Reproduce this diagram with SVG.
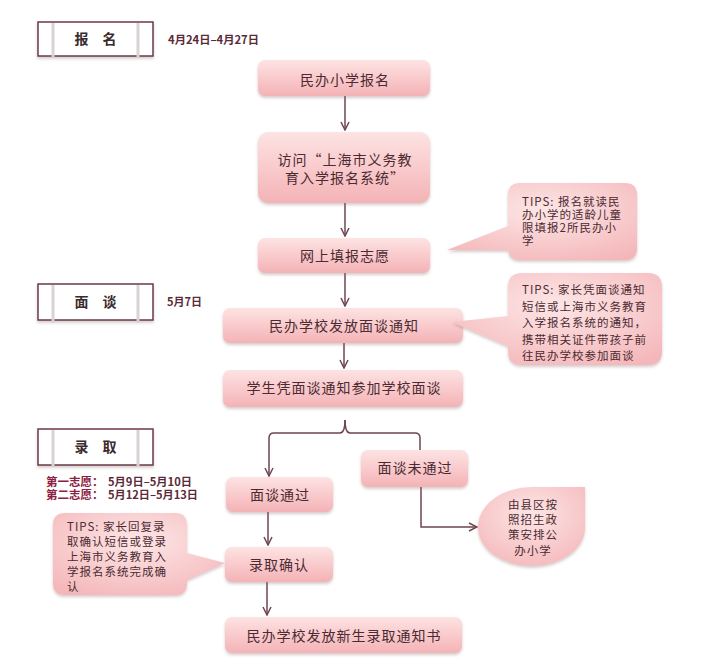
<svg xmlns="http://www.w3.org/2000/svg" width="714" height="671" viewBox="0 0 714 671">
<defs>
  <linearGradient id="pink" x1="0" y1="0" x2="0" y2="1">
    <stop offset="0" stop-color="#fde3e3"/>
    <stop offset="0.55" stop-color="#f9c8ca"/>
    <stop offset="1" stop-color="#f3b3b6"/>
  </linearGradient>
  <radialGradient id="pinkR" cx="0.5" cy="0.35" r="0.75">
    <stop offset="0" stop-color="#fde6e6"/>
    <stop offset="1" stop-color="#f4b6b9"/>
  </radialGradient>
  <filter id="sh" x="-10%" y="-20%" width="120%" height="150%">
    <feDropShadow dx="0" dy="2" stdDeviation="1.6" flood-color="#8a6a6a" flood-opacity="0.35"/>
  </filter>
  <marker id="arr" viewBox="0 0 10 10" refX="9" refY="5" markerWidth="10" markerHeight="10" markerUnits="userSpaceOnUse" orient="auto">
    <path d="M1,1 L9,5 L1,9" fill="none" stroke="#6e4650" stroke-width="1.5"/>
  </marker>
  <style>
    .node { fill: url(#pink); filter: url(#sh); }
    .tip { fill: url(#pinkR); filter: url(#sh); }
    .t { font-family: "Noto Sans CJK SC", "Liberation Serif", serif; font-size: 14px; fill: #4b2a32; text-anchor: middle; letter-spacing: 1px; }
    .s { font-family: "Noto Sans CJK SC", "Liberation Serif", serif; font-size: 11.5px; fill: #4b2a32; letter-spacing: 1px; }
    .hbox { fill: #ffffff; stroke: #6b3a48; stroke-width: 1.5; filter: url(#sh); }
    .hline { stroke: #d9d2d3; stroke-width: 3; }
    .ht { font-family: "Noto Sans CJK SC", "Liberation Serif", serif; font-size: 14px; font-weight: bold; fill: #3a2a2e; text-anchor: middle; }
    .date { font-family: "Noto Sans CJK SC", "Liberation Sans", sans-serif; font-size: 11px; font-weight: bold; fill: #5a2a38; }
    .lab { font-family: "Noto Sans CJK SC", "Liberation Sans", sans-serif; font-size: 11.5px; font-weight: bold; fill: #8b2040; }
    .c { fill: none; stroke: #6e4650; stroke-width: 1.5; }
  </style>
</defs>
<rect width="714" height="671" fill="#ffffff"/>

<g id="header-baoming">
  <rect class="hbox" x="38" y="22" width="115" height="34"/>
  <line class="hline" x1="53" y1="23" x2="53" y2="58"/>
  <line class="hline" x1="138" y1="23" x2="138" y2="58"/>
  <text class="ht" x="95.5" y="44">报　名</text>
  <text class="date" x="168" y="44" textLength="91" lengthAdjust="spacingAndGlyphs">4月24日–4月27日</text>
</g>
<g id="header-miantan">
  <rect class="hbox" x="38" y="284" width="115" height="36"/>
  <line class="hline" x1="53" y1="285" x2="53" y2="323"/>
  <line class="hline" x1="138" y1="285" x2="138" y2="323"/>
  <text class="ht" x="95.5" y="307">面　谈</text>
  <text class="date" x="167" y="306">5月7日</text>
</g>
<g id="header-luqu">
  <rect class="hbox" x="38" y="429" width="115" height="36"/>
  <line class="hline" x1="53" y1="430" x2="53" y2="467"/>
  <line class="hline" x1="138" y1="430" x2="138" y2="467"/>
  <text class="ht" x="95.5" y="452">录　取</text>
  <text class="lab" x="46" y="486">第一志愿：</text>
  <text class="date" x="108" y="486" textLength="84" lengthAdjust="spacingAndGlyphs">5月9日–5月10日</text>
  <text class="lab" x="46" y="499">第二志愿：</text>
  <text class="date" x="108" y="499" textLength="90" lengthAdjust="spacingAndGlyphs">5月12日–5月13日</text>
</g>

<g id="connectors">
  <path class="c" d="M345,96 L345,130" marker-end="url(#arr)"/>
  <path class="c" d="M345,203 L345,236" marker-end="url(#arr)"/>
  <path class="c" d="M345,273 L345,306" marker-end="url(#arr)"/>
  <path class="c" d="M344,343 L344,368" marker-end="url(#arr)"/>
  <path class="c" d="M345,420 Q345,433 340,433 L274,433 Q269,433 269,438 L269,476" marker-end="url(#arr)"/>
  <path class="c" d="M345,420 Q345,433 350,433 L415,433 Q420,433 420,438 L420,450"/>
  <path class="c" d="M421,487 L421,527 L477,527" marker-end="url(#arr)"/>
  <path class="c" d="M268,512 L268,545" marker-end="url(#arr)"/>
  <path class="c" d="M267,582 L267,615" marker-end="url(#arr)"/>
</g>

<g id="n1">
  <rect class="node" x="258" y="60" width="172" height="36" rx="7"/>
  <text class="t" x="345" y="85">民办小学报名</text>
</g>
<g id="n2">
  <rect class="node" x="258" y="132" width="172" height="71" rx="10"/>
  <text class="t" x="345" y="165">访问“上海市义务教</text>
  <text class="t" x="345" y="183">育入学报名系统”</text>
</g>
<g id="n3">
  <rect class="node" x="258" y="238" width="172" height="35" rx="7"/>
  <text class="t" x="345" y="261">网上填报志愿</text>
</g>
<g id="tip1">
  <path class="tip" d="M520,183 L625,183 Q637,183 637,195 L637,248 Q637,260 625,260 L520,260 Q508,260 508,248 L508,250 L447,250 L508,226 L508,195 Q508,183 520,183 Z"/>
  <text class="s" x="522" y="206">TIPS: 报名就读民</text>
  <text class="s" x="522" y="219">办小学的适龄儿童</text>
  <text class="s" x="522" y="232">限填报2所民办小</text>
  <text class="s" x="522" y="245">学</text>
</g>
<g id="n4">
  <rect class="node" x="223" y="308" width="240" height="35" rx="7"/>
  <text class="t" x="344" y="331">民办学校发放面谈通知</text>
</g>
<g id="tip2">
  <path class="tip" d="M522,273 L648,273 Q662,273 662,287 L662,351 Q662,365 648,365 L522,365 Q508,365 508,351 L508,346 L452,322 L508,316 L508,287 Q508,273 522,273 Z"/>
  <text class="s" x="522" y="294">TIPS: 家长凭面谈通知</text>
  <text class="s" x="522" y="311">短信或上海市义务教育</text>
  <text class="s" x="522" y="327">入学报名系统的通知，</text>
  <text class="s" x="522" y="344">携带相关证件带孩子前</text>
  <text class="s" x="522" y="360">往民办学校参加面谈</text>
</g>
<g id="n5">
  <rect class="node" x="223" y="370" width="240" height="37" rx="7"/>
  <text class="t" x="344" y="393">学生凭面谈通知参加学校面谈</text>
</g>
<g id="n6">
  <rect class="node" x="226" y="477" width="107" height="35" rx="7"/>
  <text class="t" x="280" y="500">面谈通过</text>
</g>
<g id="n7">
  <rect class="node" x="361" y="450" width="107" height="37" rx="7"/>
  <text class="t" x="415" y="473">面谈未通过</text>
</g>
<g id="n8">
  <path class="tip" d="M532,487 L585,487 L585,527 A53,39 0 0 1 532,566 A54,39 0 0 1 478,527 A54,40 0 0 1 532,487 Z"/>
  <text class="s" x="533" y="509" text-anchor="middle">由县区按</text>
  <text class="s" x="533" y="524" text-anchor="middle">照招生政</text>
  <text class="s" x="533" y="539" text-anchor="middle">策安排公</text>
  <text class="s" x="533" y="555" text-anchor="middle">办小学</text>
</g>
<g id="tip3">
  <path class="tip" d="M65,513 L175,513 Q187,513 187,525 L187,553 L225,563 L187,580 L187,583 Q187,595 175,595 L65,595 Q53,595 53,583 L53,525 Q53,513 65,513 Z"/>
  <text class="s" x="67" y="531">TIPS: 家长回复录</text>
  <text class="s" x="67" y="546">取确认短信或登录</text>
  <text class="s" x="67" y="561">上海市义务教育入</text>
  <text class="s" x="67" y="576">学报名系统完成确</text>
  <text class="s" x="67" y="591">认</text>
</g>
<g id="n9">
  <rect class="node" x="225" y="547" width="108" height="35" rx="7"/>
  <text class="t" x="279" y="570">录取确认</text>
</g>
<g id="n10">
  <rect class="node" x="225" y="617" width="237" height="36" rx="7"/>
  <text class="t" x="344" y="641">民办学校发放新生录取通知书</text>
</g>
</svg>
